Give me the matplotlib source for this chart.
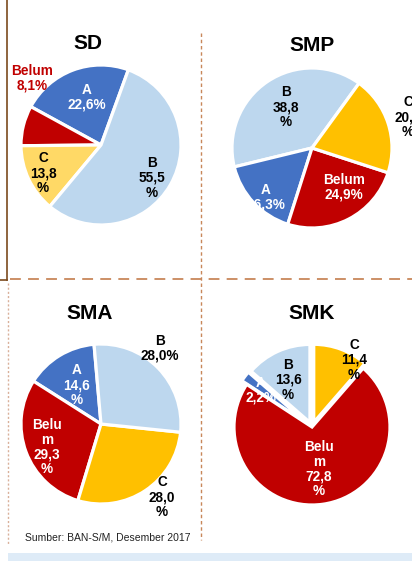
import matplotlib.pyplot as plt

plt.rcParams["font.family"] = ["Liberation Sans", "DejaVu Sans"]

W, H = 412, 561

# values go counterclockwise from each pie's start angle
sd_labels = ["A", "Belum", "C", "B"]
sd_values = [22.6, 8.1, 13.8, 55.5]
sd_texts = ["A\n22,6%", "Belum\n8,1%", "C\n13,8\n%", "B\n55,5\n%"]

smp_labels = ["B", "A", "Belum", "C"]
smp_values = [38.8, 16.3, 24.9, 20.0]
smp_texts = ["B\n38,8\n%", "A\n16,3%", "Belum\n24,9%", "C\n20,0\n%"]

sma_labels = ["A", "Belum", "C", "B"]
sma_values = [14.6, 29.3, 28.0, 28.0]
sma_texts = ["A\n14,6\n%", "Belu\nm\n29,3\n%", "C\n28,0\n%", "B\n28,0%"]

smk_labels = ["B", "A", "Belum", "C"]
smk_values = [13.6, 2.2, 72.8, 11.4]
smk_texts = ["B\n13,6\n%", "A\n2,2%", "Belu\nm\n72,8\n%", "C\n11,4\n%"]

source = "Sumber: BAN-S/M, Desember 2017"

COLORS = {"A": "#4472C4", "B": "#BDD7EE", "C": "#FFC000", "Belum": "#C00000"}
RED = "#C00000"


def pixel_axes(fig, cx, cy, half=110):
    """Square axes centred on page pixel (cx, cy), data units = pixels."""
    rect = [(cx - half) / W, 1 - (cy + half) / H, 2 * half / W, 2 * half / H]
    return fig.add_axes(rect)


def draw_pie(fig, cx, cy, labels, values, texts, start, text_pos, text_colors,
             explode=None, colors=None, r=80, half=110):
    ax = pixel_axes(fig, cx, cy, half)
    cols = [(colors or {}).get(lab, COLORS[lab]) for lab in labels]
    ax.pie(values, colors=cols, startangle=start, counterclock=True,
           radius=r, explode=explode,
           wedgeprops=dict(edgecolor="white", linewidth=2.3))
    for txt, (dx, dy), col in zip(texts, text_pos, text_colors):
        ax.text(dx, dy, txt, ha="center", va="center", color=col,
                fontsize=9.8, fontweight="bold", linespacing=1.08)
    ax.set_xlim(-half, half)
    ax.set_ylim(-half, half)
    ax.axis("off")
    return ax


fig = plt.figure(figsize=(W / 100, H / 100), dpi=100)
bg = fig.add_axes([0, 0, 1, 1])
bg.set_xlim(0, W)
bg.set_ylim(H, 0)
bg.axis("off")

# frame lines of the page
bg.plot([7, 7], [0, 280], color="#7B4A1E", lw=1.2)
bg.plot([0, 7], [280, 280], color="#7B4A1E", lw=1.2)
bg.plot([10, W], [279, 279], color="#C8875A", lw=1.3, ls=(0, (6, 4)))
bg.plot([201, 201], [33, 540], color="#C8875A", lw=1.0, ls=(0, (2.5, 2)))
bg.plot([8, 8], [283, 545], color="#D9B09A", lw=1.0, ls=(0, (1.5, 1.5)))
bg.fill_between([8, W], 553, 561, color="#DEEBF7", lw=0)

for title, x, y in [("SD", 88, 43), ("SMP", 312, 45), ("SMA", 90, 313), ("SMK", 312, 313)]:
    bg.text(x, y, title, ha="center", va="center", fontsize=15, fontweight="bold")

bg.text(25, 538, source, ha="left", va="center", fontsize=7.5, color="#222222")

draw_pie(fig, 101, 145, sd_labels, sd_values, sd_texts, 70,
         [(-14, 48), (-69, 67), (-58, -28), (51, -33)],
         ["white", RED, "black", "black"],
         colors={"C": "#FFD966"})

draw_pie(fig, 312, 148, smp_labels, smp_values, smp_texts, 54,
         [(-26, 41), (-46, -49), (32, -39), (96, 31)],
         ["black", "white", "white", "black"])

draw_pie(fig, 101, 424, sma_labels, sma_values, sma_texts, 95,
         [(-24, 39), (-54, -23), (61, -73), (59, 76)],
         ["white", "white", "black", "black"])

draw_pie(fig, 312, 427, smk_labels, smk_values, smk_texts, 90,
         [(-24, 47), (-51, 37), (7, -42), (42, 67)],
         ["black", "white", "white", "black"],
         explode=[5, 6, 0, 5], r=78)

fig.savefig("out.png", dpi=100)
